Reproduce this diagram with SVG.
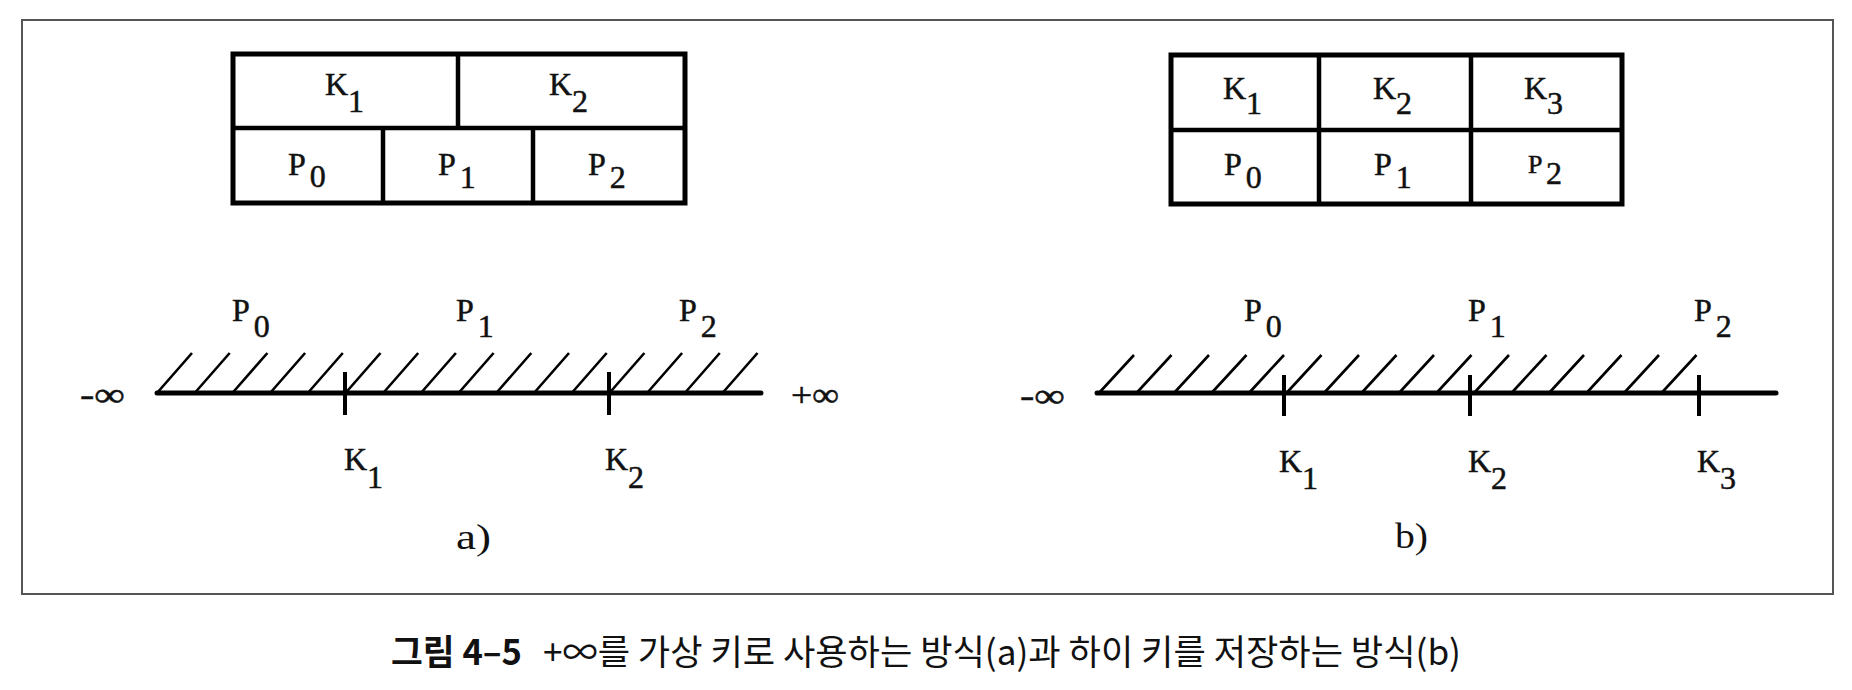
<svg xmlns="http://www.w3.org/2000/svg" width="1852" height="690" viewBox="0 0 1852 690">
<style>
.frame{fill:none;stroke:#555;stroke-width:2}
.box{fill:none;stroke:#000;stroke-width:5}
.div{stroke:#000;stroke-width:4.5}
.axis{stroke:#000;stroke-width:5;stroke-linecap:round}
.tick{stroke:#000;stroke-width:4}
.hatch{stroke:#000;stroke-width:2.6}
.lbl{font-family:"Liberation Serif","DejaVu Serif",serif;font-size:32px;fill:#111;stroke:#111;stroke-width:0.5}
.big{font-family:"Liberation Serif","DejaVu Serif",serif;font-size:35px;fill:#111}
.inf{font-family:"Liberation Serif","DejaVu Serif",serif;font-size:34px;fill:#111;stroke:#111;stroke-width:0.5}
.cap{font-family:"Noto Sans CJK KR","Noto Sans",sans-serif;font-size:35px;fill:#111}
</style>
<rect fill="#fff" x="0" y="0" width="1852" height="690"/>
<rect class="frame" x="22" y="20" width="1811" height="574"/>

<g id="nodeA">
  <rect class="box" x="233" y="54" width="452" height="149"/>
  <line class="div" x1="233" y1="128" x2="685" y2="128"/>
  <line class="div" x1="458" y1="54" x2="458" y2="128"/>
  <line class="div" x1="383" y1="128" x2="383" y2="203"/>
  <line class="div" x1="533" y1="128" x2="533" y2="203"/>
  <text class="lbl" x="325" y="95">K<tspan dy="17">1</tspan></text>
  <text class="lbl" x="549" y="95">K<tspan dy="17">2</tspan></text>
  <text class="lbl" x="288" y="175">P<tspan dx="4" dy="12">0</tspan></text>
  <text class="lbl" x="438" y="175">P<tspan dx="4" dy="13">1</tspan></text>
  <text class="lbl" x="588" y="175">P<tspan dx="4" dy="13">2</tspan></text>
</g>

<g id="nodeB">
  <rect class="box" x="1171" y="55" width="451" height="149"/>
  <line class="div" x1="1171" y1="130" x2="1622" y2="130"/>
  <line class="div" x1="1319" y1="55" x2="1319" y2="204"/>
  <line class="div" x1="1471" y1="55" x2="1471" y2="204"/>
  <text class="lbl" x="1223" y="99">K<tspan dy="15">1</tspan></text>
  <text class="lbl" x="1373" y="99">K<tspan dy="15">2</tspan></text>
  <text class="lbl" x="1524" y="99">K<tspan dy="15">3</tspan></text>
  <text class="lbl" x="1224" y="175">P<tspan dx="4" dy="13">0</tspan></text>
  <text class="lbl" x="1374" y="175">P<tspan dx="4" dy="13">1</tspan></text>
  <text class="lbl" x="1528" y="173"><tspan font-size="26">P</tspan><tspan dy="11" x="1546">2</tspan></text>
</g>

<g id="connectors">
  <g id="axisA">
    <line class="axis" x1="157" y1="393" x2="761" y2="393"/>
    <line class="tick" x1="345" y1="372" x2="345" y2="415"/>
    <line class="tick" x1="609" y1="372" x2="609" y2="415"/>
    <path class="hatch" d="M157 393L192 353M194.7 393L229.7 353M232.4 393L267.4 353M270.1 393L305.1 353M307.8 393L342.8 353M345.5 393L380.5 353M383.2 393L418.2 353M420.9 393L455.9 353M458.6 393L493.6 353M496.3 393L531.3 353M534 393L569 353M571.7 393L606.7 353M609.4 393L644.4 353M647.1 393L682.1 353M684.8 393L719.8 353M722.5 393L757.5 353"/>
  </g>
  <g id="axisB">
    <line class="axis" x1="1097" y1="393" x2="1776" y2="393"/>
    <line class="tick" x1="1284" y1="375" x2="1284" y2="416"/>
    <line class="tick" x1="1470" y1="375" x2="1470" y2="416"/>
    <line class="tick" x1="1699" y1="375" x2="1699" y2="416"/>
    <path class="hatch" d="M1099 393L1134 355M1136.5 393L1171.5 355M1174 393L1209 355M1211.5 393L1246.5 355M1249 393L1284 355M1286.5 393L1321.5 355M1324 393L1359 355M1361.5 393L1396.5 355M1399 393L1434 355M1436.5 393L1471.5 355M1474 393L1509 355M1511.5 393L1546.5 355M1549 393L1584 355M1586.5 393L1621.5 355M1624 393L1659 355M1661.5 393L1696.5 355"/>
  </g>
</g>

<g id="labelsA">
  <text class="lbl" x="232" y="321">P<tspan dx="4" dy="16">0</tspan></text>
  <text class="lbl" x="456" y="321">P<tspan dx="4" dy="16">1</tspan></text>
  <text class="lbl" x="679" y="321">P<tspan dx="4" dy="16">2</tspan></text>
  <text class="lbl" x="344" y="470">K<tspan dy="18">1</tspan></text>
  <text class="lbl" x="605" y="470">K<tspan dy="18">2</tspan></text>
  <text class="inf" x="80" y="406" textLength="45" lengthAdjust="spacingAndGlyphs">-∞</text>
  <text class="inf" x="791" y="406" textLength="48" lengthAdjust="spacingAndGlyphs">+∞</text>
  <text class="big" x="456" y="549" textLength="35" lengthAdjust="spacingAndGlyphs">a)</text>
</g>

<g id="labelsB">
  <text class="lbl" x="1244" y="321">P<tspan dx="4" dy="16">0</tspan></text>
  <text class="lbl" x="1468" y="321">P<tspan dx="4" dy="16">1</tspan></text>
  <text class="lbl" x="1694" y="321">P<tspan dx="4" dy="16">2</tspan></text>
  <text class="lbl" x="1279" y="472">K<tspan dy="17">1</tspan></text>
  <text class="lbl" x="1468" y="472">K<tspan dy="17">2</tspan></text>
  <text class="lbl" x="1697" y="472">K<tspan dy="17">3</tspan></text>
  <text class="inf" x="1020" y="407" textLength="45" lengthAdjust="spacingAndGlyphs">-∞</text>
  <text class="big" x="1395" y="548" textLength="33" lengthAdjust="spacingAndGlyphs">b)</text>
</g>

<g id="caption">
  <text class="cap" x="391" y="665" font-weight="bold" textLength="131" lengthAdjust="spacingAndGlyphs">그림 4–5</text>
  <text class="cap" x="543" y="665" textLength="918" lengthAdjust="spacingAndGlyphs">+∞를 가상 키로 사용하는 방식(a)과 하이 키를 저장하는 방식(b)</text>
</g>
</svg>
